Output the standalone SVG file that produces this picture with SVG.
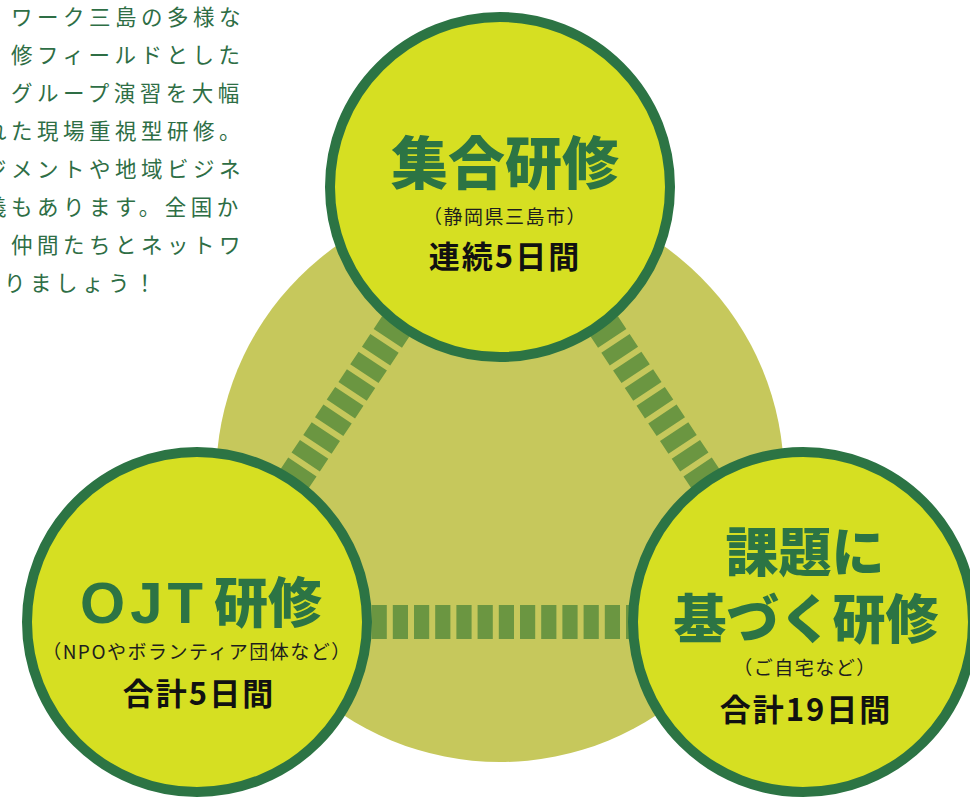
<svg xmlns="http://www.w3.org/2000/svg" width="970" height="804" viewBox="0 0 970 804">
<style>
  text { font-family: "Noto Sans CJK JP", "Noto Sans", sans-serif; }
  .ring { fill: #d6df22; stroke: #2c7444; stroke-width: 10; }
  .conn { stroke: #6b9641; stroke-width: 34; stroke-dasharray: 15.2 6; fill: none; }
  .title { fill: #2c7444; font-weight: 900; text-anchor: middle; }
  .latin { font-family: "Liberation Sans", "Noto Sans", sans-serif; font-weight: 700; }
  .sub { fill: #1e1e1e; font-size: 19px; text-anchor: middle; letter-spacing: 1.5px; }
  .days { fill: #111; font-weight: 700; font-size: 31px; text-anchor: middle; letter-spacing: 2px; }
  .intro { fill: #2e6e45; font-size: 21.5px; letter-spacing: 4.5px; }
</style>
<rect width="970" height="804" fill="#ffffff"/>
<g id="intro">
  <text class="intro" x="11" y="25">ワーク三島の多様な</text>
  <text class="intro" x="11" y="63">修フィールドとした</text>
  <text class="intro" x="11" y="101">グループ演習を大幅</text>
  <text class="intro" x="-15" y="139">れた現場重視型研修。</text>
  <text class="intro" x="-15" y="177">ジメントや地域ビジネ</text>
  <text class="intro" x="-15" y="215">義もあります。全国か</text>
  <text class="intro" x="11" y="253">仲間たちとネットワ</text>
  <text class="intro" x="4" y="291" letter-spacing="2.5">りましょう！</text>
</g>
<circle id="base" cx="500" cy="478" r="284" fill="#c6c85c"/>
<g id="connectors">
  <line class="conn" x1="419.7" y1="290.4" x2="255.4" y2="537.7"/>
  <line class="conn" x1="580.3" y1="290.4" x2="744.6" y2="537.7"/>
  <line class="conn" x1="371.6" y1="622" x2="640" y2="622"/>
</g>
<g id="node-shugo">
  <circle class="ring" cx="500" cy="187" r="170"/>
  <text class="title" x="505" y="184" font-size="57">集合研修</text>
  <text class="sub" x="505" y="224">（静岡県三島市）</text>
  <text class="days" x="505" y="268">連続5日間</text>
</g>
<g id="node-ojt">
  <circle class="ring" cx="197" cy="622" r="170"/>
  <text class="title" x="201" y="623" font-size="54"><tspan class="latin" font-size="58" letter-spacing="5">OJT</tspan><tspan dx="6">研修</tspan></text>
  <text class="sub" x="197" y="659" font-size="18">（NPOやボランティア団体など）</text>
  <text class="days" x="199" y="705">合計5日間</text>
</g>
<g id="node-kadai">
  <circle class="ring" cx="803" cy="622" r="170"/>
  <text class="title" x="805" y="572" font-size="53">課題に</text>
  <text class="title" x="806" y="639" font-size="53">基づく研修</text>
  <text class="sub" x="805" y="675">（ご自宅など）</text>
  <text class="days" x="806" y="721">合計19日間</text>
</g>
</svg>
